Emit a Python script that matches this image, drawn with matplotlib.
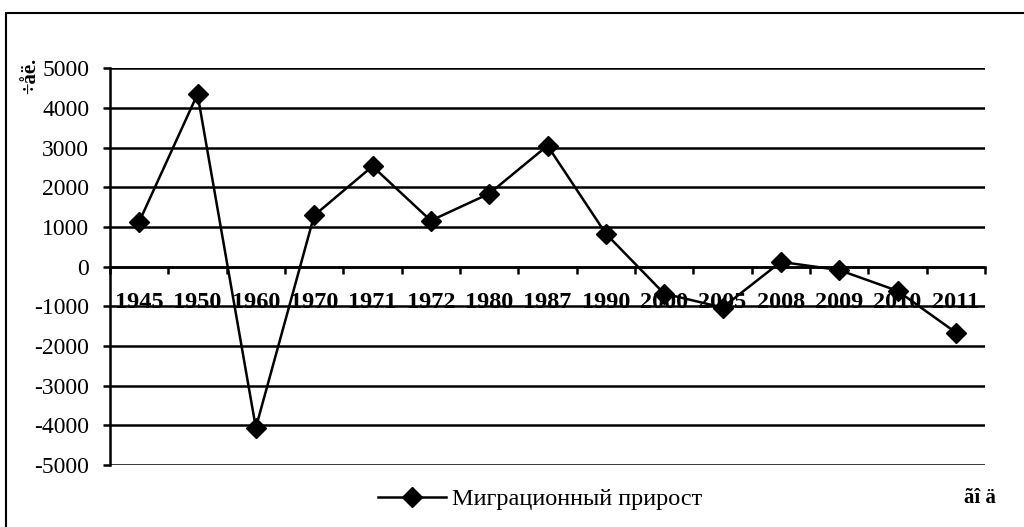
import matplotlib
matplotlib.use("Agg")
import matplotlib.pyplot as plt
from matplotlib.patches import Rectangle

# data
years = ["1945", "1950", "1960", "1970", "1971", "1972", "1980", "1987",
         "1990", "2000", "2005", "2008", "2009", "2010", "2011"]
migration = [1130, 4350, -4060, 1290, 2530, 1160, 1840, 3050,
             830, -680, -1030, 120, -85, -610, -1660]
y_ticks = [-5000, -4000, -3000, -2000, -1000, 0, 1000, 2000, 3000, 4000, 5000]

plt.rcParams["font.family"] = ["Liberation Serif", "DejaVu Serif"]

W, H = 1024, 527
fig = plt.figure(figsize=(W / 100, H / 100), dpi=100)
ax = fig.add_axes([110 / W, 1 - 465 / H, 875 / W, (465 - 68.3) / H])

x = list(range(len(years)))
ax.plot(x, migration, color="black", lw=1.8, marker="D", ms=10.5,
        markerfacecolor="black", label="Миграционный прирост", zorder=3)

ax.set_xlim(-0.5, len(years) - 0.5)
ax.set_ylim(-5000, 5000)
ax.set_yticks(y_ticks)
ax.set_yticklabels([str(v) for v in y_ticks], fontsize=17)
ax.yaxis.grid(True, color="black", lw=1.8)
ax.set_axisbelow(True)

ax.spines["top"].set_visible(False)
ax.spines["right"].set_visible(False)
ax.spines["left"].set_linewidth(1.8)
ax.spines["bottom"].set_position(("data", 0))
ax.spines["bottom"].set_linewidth(1.8)

ax.set_xticks(x)
ax.set_xticklabels(years, fontsize=17.5, fontweight="bold")
ax.set_xticks([i - 0.5 for i in range(len(years) + 1)], minor=True)
ax.tick_params(axis="x", which="major", length=0, pad=18)
ax.tick_params(axis="x", which="minor", direction="out", length=5, width=1.8)
ax.tick_params(axis="y", direction="out", length=5, width=1.8, pad=10)

# rotated y label and axis name (as in the source)
fig.text(30 / W, 1 - 76 / H, "÷åë.", rotation=90, fontsize=15,
         fontweight="bold", ha="center", va="center")
fig.text(980 / W, 1 - 498 / H, "ãî ä", fontsize=15, fontweight="bold",
         ha="center", va="center")

fig.legend(loc="center", bbox_to_anchor=(540 / W, 1 - 499 / H), frameon=False,
           fontsize=17.5, handlelength=2.8, handletextpad=0.25)

fig.add_artist(Rectangle((5.5 / W, -0.1), 1.2, 1 - 12.5 / H + 0.1,
                         transform=fig.transFigure, fill=False,
                         edgecolor="black", lw=1.5))

fig.savefig("out.png", dpi=100)
